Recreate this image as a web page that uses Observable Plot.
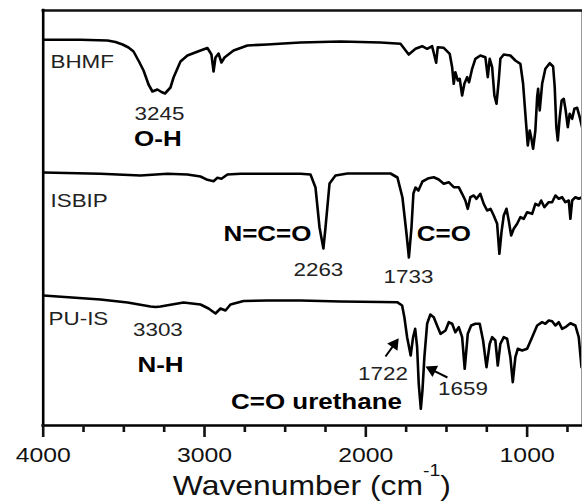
<!DOCTYPE html>
<html>
<head>
<meta charset="utf-8">
<script src="https://cdn.jsdelivr.net/npm/d3@7"></script>
<script src="https://cdn.jsdelivr.net/npm/@observablehq/plot@0.6"></script>
<style>
  html, body { margin: 0; padding: 0; background: #fff; }
  #chart { width: 582px; height: 501px; }
</style>
</head>
<body>
<div id="chart"></div>
<script>
// FTIR spectra of BHMF, ISBIP and the resulting PU-IS.
// Transmittance in arbitrary units, the three traces stacked vertically.
const seriesNames = ["BHMF", "ISBIP", "PU-IS"];

const bhmfWavenumber = [4000, 3769, 3601, 3552, 3508, 3471, 3440, 3403, 3378, 3347, 3323, 3292, 3267, 3245, 3211, 3192, 3149, 3106, 3025, 2982, 2957, 2944, 2932, 2913, 2895, 2876, 2820, 2734, 2610, 2511, 2405, 2157, 1909, 1785, 1734, 1692, 1651, 1620, 1589, 1564, 1554, 1517, 1480, 1465, 1455, 1445, 1430, 1418, 1403, 1389, 1372, 1360, 1341, 1321, 1290, 1259, 1244, 1232, 1217, 1203, 1190, 1176, 1166, 1145, 1104, 1073, 1042, 1025, 1011, 996, 984, 975, 963, 949, 938, 932, 922, 907, 887, 860, 839, 829, 819, 810, 798, 786, 773, 761, 748, 736, 721, 707, 690, 674, 657];
const bhmfSignal = [385.7, 385.7, 385, 383.5, 381, 378, 374, 363, 355, 341, 334, 336, 333.5, 332, 338, 348, 364, 370, 375, 377.5, 371, 354, 368, 372, 363, 368, 375, 380, 381, 382, 383, 384, 383, 381.7, 371, 376.7, 379.3, 376.7, 379.3, 362.7, 378.3, 377.7, 371.7, 358.3, 341.7, 353.3, 345, 346.7, 330, 341.7, 348.3, 343.3, 356.7, 366.7, 370, 368.3, 348.3, 366.7, 358.3, 330, 321.7, 345, 366.7, 371, 370, 365, 361.7, 341.7, 311.7, 280, 295, 288.3, 276.7, 295, 328.3, 336.7, 315, 341.7, 356.7, 362.3, 359, 338.3, 298.3, 285, 308.3, 325, 326.7, 315, 298.3, 311.7, 306.7, 316.7, 317.7, 308.3, 296.7];

const isbipWavenumber = [4000, 3645, 3397, 3230, 3106, 3025, 2982, 2944, 2920, 2895, 2858, 2777, 2610, 2405, 2343, 2312, 2287, 2263, 2250, 2225, 2188, 2114, 1847, 1804, 1773, 1748, 1733, 1717, 1705, 1692, 1674, 1649, 1610, 1579, 1548, 1517, 1486, 1455, 1424, 1403, 1383, 1368, 1352, 1331, 1314, 1290, 1269, 1248, 1227, 1207, 1186, 1172, 1159, 1145, 1128, 1114, 1099, 1083, 1062, 1042, 1021, 1000, 969, 949, 928, 913, 893, 866, 845, 825, 804, 783, 763, 742, 732, 721, 701, 680, 659];
const isbipSignal = [253, 251.7, 250, 251.7, 251, 249, 245.7, 244.3, 247.7, 246.7, 251, 251.7, 251.7, 251.7, 251, 238, 198, 177, 198, 242, 250, 252, 252, 248, 228, 192, 168, 198, 232, 238, 235, 244, 247.3, 248.3, 246, 241.7, 243.3, 238.3, 238.3, 231.7, 225, 216.7, 228.3, 230, 226.7, 231.7, 221.7, 215, 216.7, 210, 201.7, 171.7, 193.3, 210, 216.7, 205, 190, 196.7, 201.7, 208.3, 206.7, 213.3, 211.7, 221.7, 220, 225, 218.3, 223.3, 223.3, 230, 226.7, 228.3, 223.3, 225, 206.7, 225, 228.3, 226.7, 228.3];

const puisWavenumber = [4000, 3645, 3477, 3335, 3303, 3273, 3130, 3025, 2975, 2932, 2901, 2870, 2839, 2758, 2610, 2405, 2157, 1909, 1806, 1775, 1761, 1744, 1728, 1722, 1707, 1694, 1682, 1672, 1659, 1649, 1637, 1620, 1600, 1579, 1554, 1537, 1506, 1486, 1465, 1445, 1424, 1403, 1387, 1368, 1347, 1321, 1294, 1273, 1252, 1232, 1217, 1197, 1182, 1166, 1145, 1124, 1104, 1089, 1073, 1058, 1031, 1000, 969, 938, 907, 887, 866, 845, 825, 804, 783, 763, 732, 701, 680, 663];
const puisSignal = [130, 126, 123, 119, 118.5, 119, 123, 121, 117, 112, 117, 115, 121, 124.5, 125, 125, 124, 123.5, 123.3, 120, 108.3, 88.3, 75, 70, 88.3, 96.7, 78.3, 41.7, 16.7, 35, 68.3, 101.7, 111, 108.3, 98.3, 91.7, 95, 103.3, 101.7, 93.3, 98.3, 88.3, 56.7, 91.7, 100, 101.7, 101.7, 85, 58.3, 81.7, 88.3, 85, 60, 81.7, 88.3, 86.7, 68.3, 43.3, 68.3, 76.7, 75, 76.7, 88.3, 100, 103.3, 101.7, 105, 104.3, 100, 103.3, 96.7, 98.3, 102.3, 100, 88.3, 58.3];

const majorTicks = [4000, 3000, 2000, 1000];
const minorTicks = [3750, 3500, 3250, 2750, 2500, 2250, 1750, 1500, 1250, 750];

// Long-format table for Plot
const spectra = [
  {name: seriesNames[0], wn: bhmfWavenumber, s: bhmfSignal},
  {name: seriesNames[1], wn: isbipWavenumber, s: isbipSignal},
  {name: seriesNames[2], wn: puisWavenumber, s: puisSignal}
].flatMap(d => d.wn.map((w, i) => ({series: d.name, wavenumber: w, signal: d.s[i]})));

// Plot geometry
const W = 582, H = 501;
const margin = {top: 10, right: 1, bottom: 76, left: 42.7};
const xDomain = [4000, 663];
const yDomain = [0, 415];

// Annotations (placed in data coordinates)
const seriesLabels = [
  {text: seriesNames[0], x: 3955, y: 358},
  {text: seriesNames[1], x: 3955, y: 218.3},
  {text: seriesNames[2], x: 3967, y: 101}
];
const peakLabels = [
  {peak: 3245, x: 3279, y: 306},
  {peak: 2263, x: 2294, y: 150},
  {peak: 1733, x: 1736, y: 143},
  {peak: 3303, x: 3289, y: 90},
  {peak: 1722, x: 1894, y: 46},
  {peak: 1659, x: 1398, y: 31}
];
const groupLabels = [
  {text: "O-H", x: 3289, y: 280},
  {text: "N=C=O", x: 2610, y: 185},
  {text: "C=O", x: 1516, y: 185},
  {text: "N-H", x: 3273, y: 54},
  {text: "C=O urethane", x: 2306, y: 17}
];
const arrowSpecs = [
  {x1: 1878, y1: 69, x2: 1796, y2: 87.3},
  {x1: 1494, y1: 48, x2: 1630, y2: 59}
];

// Filled arrowheads: a rotated triangle whose tip sits at (x2, y2)
const xs = Plot.scale({x: {domain: xDomain, range: [margin.left, W - margin.right]}});
const ys = Plot.scale({y: {domain: yDomain, range: [H - margin.bottom, margin.top]}});
const headR = 4.7;
const tipOffset = 2 * headR * Math.sqrt(Math.PI / (3 * Math.sqrt(3)));
const arrows = arrowSpecs.map(a => {
  const sx = xs.apply(a.x1), sy = ys.apply(a.y1);
  const tx = xs.apply(a.x2), ty = ys.apply(a.y2);
  const len = Math.hypot(tx - sx, ty - sy);
  const ux = (tx - sx) / len, uy = (ty - sy) / len;
  const cx = tx - ux * tipOffset, cy = ty - uy * tipOffset;
  return {
    x1: a.x1, y1: a.y1,
    hx: xs.invert(cx), hy: ys.invert(cy),
    angle: Math.atan2(ux, -uy) * 180 / Math.PI
  };
});

const font = "'Liberation Sans', Arial, Helvetica, sans-serif";

const chart = Plot.plot({
  width: W,
  height: H,
  marginTop: margin.top,
  marginRight: margin.right,
  marginBottom: margin.bottom,
  marginLeft: margin.left,
  style: {fontFamily: font, background: "#fff", color: "#111"},
  x: {domain: xDomain},
  y: {domain: yDomain, axis: null},
  marks: [
    Plot.line(spectra, {
      x: "wavenumber", y: "signal", z: "series",
      stroke: "#000", strokeWidth: 2.6, strokeLinejoin: "round", clip: true
    }),
    // frame: heavy left, bottom and top edges, light right edge
    Plot.ruleX([xDomain[1]], {stroke: "#9a9a9a", strokeWidth: 1}),
    Plot.ruleY([yDomain[1]], {stroke: "#111", strokeWidth: 2.4, strokeLinecap: "square"}),
    Plot.ruleX([xDomain[0]], {stroke: "#000", strokeWidth: 2.6, strokeLinecap: "square"}),
    Plot.ruleY([yDomain[0]], {stroke: "#000", strokeWidth: 2.6, strokeLinecap: "square"}),
    Plot.axisX({
      ticks: majorTicks, tickSize: 12, tickPadding: 10,
      tickFormat: d => String(d), fontSize: 21, strokeWidth: 2.6, label: null
    }),
    Plot.axisX({
      ticks: minorTicks, tickSize: 7, tickFormat: () => "", strokeWidth: 2.6, label: null
    }),
    Plot.text(seriesLabels, {
      x: "x", y: "y", text: "text", textAnchor: "start", lineAnchor: "bottom",
      fontSize: 19, fill: "#222"
    }),
    Plot.text(peakLabels, {
      x: "x", y: "y", text: d => String(d.peak), lineAnchor: "bottom",
      fontSize: 19, fill: "#222"
    }),
    Plot.text(groupLabels, {
      x: "x", y: "y", text: "text", lineAnchor: "bottom",
      fontSize: 22, fontWeight: "bold", fill: "#000"
    }),
    Plot.link(arrows, {x1: "x1", y1: "y1", x2: "hx", y2: "hy", stroke: "#000", strokeWidth: 2}),
    Plot.dot(arrows, {x: "hx", y: "hy", r: headR, symbol: "triangle", rotate: "angle", fill: "#000", stroke: "none"})
  ]
});

document.getElementById("chart").append(chart);

// The lettering in this figure is set slightly wide
const stretch = 1.18;
chart.querySelectorAll("text").forEach(t => {
  const len = t.getComputedTextLength();
  if (len > 0) {
    t.setAttribute("textLength", len * stretch);
    t.setAttribute("lengthAdjust", "spacingAndGlyphs");
  }
});

// Axis title with a superscript unit
const titleX = (xs.apply(xDomain[0]) + xs.apply(xDomain[1])) / 2;
const title = d3.select(chart).append("text")
  .attr("transform", `translate(${titleX},${H - 6}) scale(${stretch},1)`)
  .attr("text-anchor", "middle")
  .attr("font-family", font)
  .attr("font-size", 27)
  .attr("fill", "#111");
title.append("tspan").text("Wavenumber (cm");
title.append("tspan").attr("font-size", 16.5).attr("dy", -19).text("-1");
title.append("tspan").attr("dy", 19).text(")");
</script>
</body>
</html>
